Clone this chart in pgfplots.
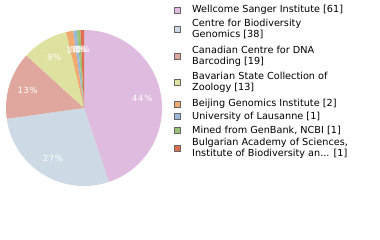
\documentclass[border=0pt]{standalone}
\usepackage{pgfplots}
\usepackage{pgfplotstable}
\pgfplotsset{compat=1.18}
\usepackage{fontspec}
\setmainfont{DejaVu Sans}
\definecolor{c0}{HTML}{DFBBDF}
\definecolor{c1}{HTML}{CDDAE6}
\definecolor{c2}{HTML}{E0A79E}
\definecolor{c3}{HTML}{DEE19F}
\definecolor{c4}{HTML}{F0AA70}
\definecolor{c5}{HTML}{9AB8DA}
\definecolor{c6}{HTML}{9CC27A}
\definecolor{c7}{HTML}{DE6E50}
\newfontfamily\pctfam[LetterSpace=8]{DejaVu Sans}
\newcommand\pctfont{\pctfam\fontsize{8.5}{10}\selectfont}
\newcommand\legfont{\fontsize{9.7}{11}\selectfont}
\pgfplotstableread{
v
61
38
19
13
2
1
1
1
}\piedata
\begin{document}
\begin{tikzpicture}
\begin{axis}[hide axis, scale only axis, width=380pt, height=240pt,
  xmin=0, xmax=380, ymin=0, ymax=240, clip=false]
\path (axis cs:0,0) rectangle (axis cs:380,240);
\xdef\cum{0}
\pgfplotsinvokeforeach{0,1,2,3,4,5,6,7}{
  \pgfplotstablegetelem{#1}{v}\of\piedata
  \pgfmathsetmacro\va{\pgfplotsretval}
  \pgfmathsetmacro\sa{90-\cum/136*360}
  \pgfmathsetmacro\ea{90-(\cum+\va)/136*360}
  \edef\temp{\noexpand\fill[c#1] (axis cs:84,132) -- ++(\sa:78pt) arc[start angle=\sa, end angle=\ea, radius=78pt] -- cycle;}
  \temp
  \pgfmathsetmacro\nc{\cum+\va}
  \xdef\cum{\nc}
}
\xdef\cum{0}
\pgfplotsinvokeforeach{0,1,2,3,4,5,6,7}{
  \pgfplotstablegetelem{#1}{v}\of\piedata
  \pgfmathsetmacro\va{\pgfplotsretval}
  \pgfmathsetmacro\ma{90-(\cum+\va/2)/136*360}
  \pgfmathsetmacro\lx{84+59*cos(\ma)}
  \pgfmathsetmacro\ly{132+59*sin(\ma)}
  \pgfmathtruncatemacro\pc{\va/136*100}
  \edef\temp{\noexpand\node[text=white, font=\noexpand\pctfont, inner sep=0pt] at (axis cs:\lx,\ly) {\pc\noexpand\%};}
  \temp
  \pgfmathsetmacro\nc{\cum+\va}
  \xdef\cum{\nc}
}
% legend
\foreach \c/\y/\t in {c0/230/{Wellcome Sanger Institute [61]},
  c1/211/{Centre for Biodiversity\\Genomics [38]},
  c2/183.5/{Canadian Centre for DNA\\Barcoding [19]},
  c3/157.5/{Bavarian State Collection of\\Zoology [13]},
  c4/136/{Beijing Genomics Institute [2]},
  c5/123.3/{University of Lausanne [1]},
  c6/109.3/{Mined from GenBank, NCBI [1]},
  c7/91.2/{Bulgarian Academy of Sciences,\\Institute of Biodiversity an... [1]}}{
  \edef\temp{\noexpand\draw[fill=\c, draw=gray!80!black, line width=0.6pt] (axis cs:174.5,\y-3) rectangle (axis cs:180.5,\y+3);}
  \temp
  \edef\temp{\noexpand\node[anchor=west, align=left, font=\noexpand\legfont, inner sep=0pt] at (axis cs:192,\y) {\unexpanded\expandafter{\t}};}
  \temp
}
\end{axis}
\end{tikzpicture}
\end{document}
